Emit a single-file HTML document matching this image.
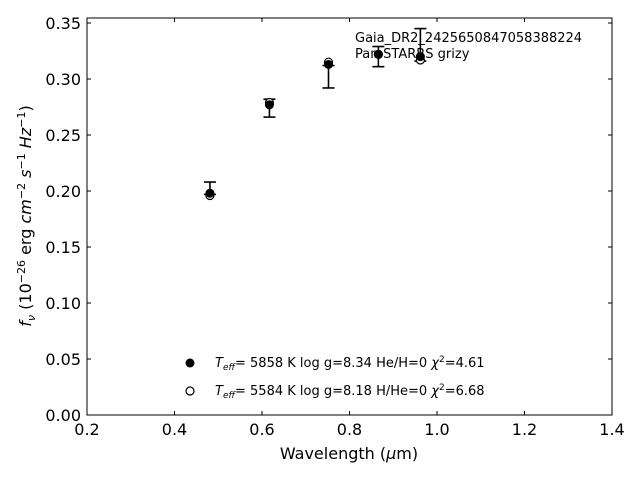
<!DOCTYPE html>
<html><head><meta charset="utf-8"><style>
body{margin:0;background:#fff;}
svg{display:block;font-family:"DejaVu Sans","Liberation Sans",sans-serif;white-space:pre;}
</style></head><body>
<svg id="chart" width="640" height="480" xml:space="preserve">
<rect x="87" y="18" width="525" height="397" fill="none" stroke="#000" stroke-width="1"/>
<g id="ticks"></g>
<g id="marks"></g>
<text x="355" y="42" font-size="13">Gaia_DR2_2425650847058388224</text>
<text x="355" y="58" font-size="13">Pan-STARRS grizy</text>
<circle cx="190" cy="363" r="4.5" fill="#000"/>
<text x="215" y="367" font-size="13"><tspan font-style="italic">T</tspan><tspan font-size="9" dy="3" font-style="italic">eff</tspan><tspan dy="-3">=  5858 K  log g=8.34  He/H=0  </tspan><tspan font-style="italic">χ</tspan><tspan font-size="9" dy="-5">2</tspan><tspan dy="5">=4.61</tspan></text>
<circle cx="190" cy="391" r="4" fill="#fff" stroke="#000" stroke-width="1.2"/>
<text x="215" y="395" font-size="13"><tspan font-style="italic">T</tspan><tspan font-size="9" dy="3" font-style="italic">eff</tspan><tspan dy="-3">=  5584 K  log g=8.18  H/He=0  </tspan><tspan font-style="italic">χ</tspan><tspan font-size="9" dy="-5">2</tspan><tspan dy="5">=6.68</tspan></text>
<text x="349" y="459" font-size="16" text-anchor="middle">Wavelength (<tspan font-style="italic">μ</tspan>m)</text>
<text transform="translate(31,216) rotate(-90)" font-size="16" text-anchor="middle"><tspan font-style="italic">f</tspan><tspan font-size="11" dy="4" font-style="italic">ν</tspan><tspan dy="-4"> (10</tspan><tspan font-size="11" dy="-6">−26</tspan><tspan dy="6"> erg </tspan><tspan font-style="italic">cm</tspan><tspan font-size="11" dy="-6">−2</tspan><tspan dy="6" font-style="italic"> s</tspan><tspan font-size="11" dy="-6">−1</tspan><tspan dy="6" font-style="italic"> Hz</tspan><tspan font-size="11" dy="-6">−1</tspan><tspan dy="6">)</tspan></text>
</svg>
<script>
const wavelengths=[0.481,0.617,0.752,0.866,0.962];
const fluxObs=[0.198,0.277,0.313,0.322,0.320];
const errLow=[0.197,0.266,0.292,0.311,0.316];
const errHigh=[0.208,0.282,0.312,0.329,0.345];
const modelHe=[0.198,0.277,0.313,0.322,0.320];
const modelH=[0.196,0.279,0.315,0.322,0.317];
const xTicks=[0.2,0.4,0.6,0.8,1.0,1.2,1.4];
const yTicks=[0.00,0.05,0.10,0.15,0.20,0.25,0.30,0.35];
const NS="http://www.w3.org/2000/svg";
const xs=v=>87+(v-0.2)/1.2*525;
const ys=v=>415-v*1120;
function mk(tag,attrs,parent,text){const e=document.createElementNS(NS,tag);for(const k in attrs)e.setAttribute(k,attrs[k]);if(text!==undefined)e.textContent=text;parent.appendChild(e);return e;}
const tg=document.getElementById('ticks'),mg=document.getElementById('marks');
xTicks.forEach(t=>{const x=xs(t);
const l=mk('line',{x1:x,x2:x,y1:415,y2:411,stroke:'#000'},tg);


const l2=mk('line',{x1:x,x2:x,y1:18,y2:22,stroke:'#000'},tg);


const tx=mk('text',{x:x,y:435,'font-size':16,'text-anchor':'middle'},tg,t.toFixed(1));

});
yTicks.forEach(t=>{const y=ys(t);
const l=mk('line',{x1:87,x2:91,y1:y,y2:y,stroke:'#000'},tg);


const l2=mk('line',{x1:612,x2:608,y1:y,y2:y,stroke:'#000'},tg);


const tx=mk('text',{x:81,y:y+6,'font-size':16,'text-anchor':'end'},tg,t.toFixed(2));

});
wavelengths.forEach((w,i)=>{const x=xs(w);
const g=mk('g',{},mg);


mk('line',{x1:x,x2:x,y1:ys(errLow[i]),y2:ys(errHigh[i]),stroke:'#000','stroke-width':1.6},g);
mk('line',{x1:x-6,x2:x+6,y1:ys(errLow[i]),y2:ys(errLow[i]),stroke:'#000','stroke-width':1.6},g);
mk('line',{x1:x-6,x2:x+6,y1:ys(errHigh[i]),y2:ys(errHigh[i]),stroke:'#000','stroke-width':1.6},g);
const o=mk('circle',{cx:x,cy:ys(modelH[i]),r:4,fill:'#fff',stroke:'#000','stroke-width':1.2},mg);


const f=mk('circle',{cx:x,cy:ys(modelHe[i]),r:4.5,fill:'#000'},mg);

});
</script>
</body></html>
